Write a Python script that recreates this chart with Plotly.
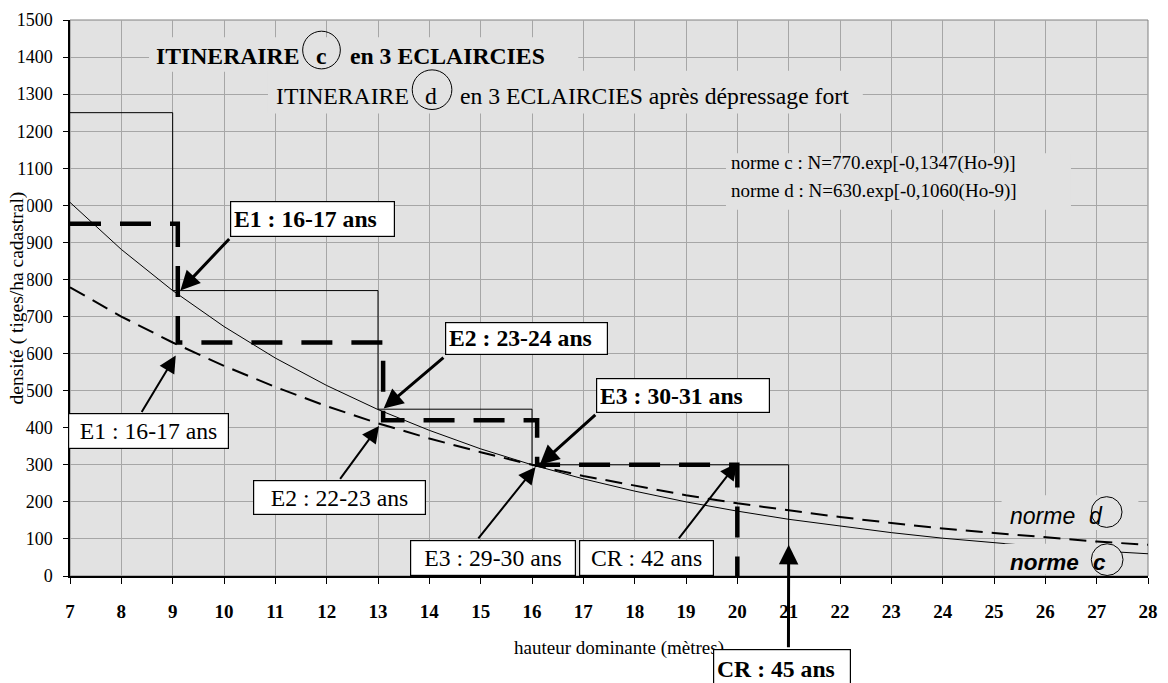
import plotly.graph_objects as go

# ---------------- data ----------------
heights = list(range(7, 29))  # hauteur dominante (m)
norme_c = [1008, 881, 770, 673, 588, 514, 449, 393, 343, 300, 262,
           229, 200, 175, 153, 134, 117, 102, 89, 78, 68, 60]
norme_d = [779, 700, 630, 567, 510, 458, 412, 371, 334, 300, 270,
           243, 218, 196, 177, 159, 143, 128, 116, 104, 93, 84]

itin_c_h = [7, 9, 13, 16, 21]
itin_c_n = [1250, 770, 450, 300, 0]
itin_d_h = [7, 9.1, 13.1, 16.1, 20]
itin_d_n = [950, 630, 420, 300, 0]

x_ticks = list(range(7, 29))
y_ticks = list(range(0, 1501, 100))

# ---------------- geometry helpers ----------------
W, H = 1168, 683
ML, MR, MT, MB = 70.3, 10.3, 15.7, 106.5
X_MIN, X_MAX, Y_MIN, Y_MAX = 7, 28, 0, 1500
PW = W - ML - MR
PH = H - MT - MB


def dx(px):
    return X_MIN + (px - ML) / PW * (X_MAX - X_MIN)


def dy(py):
    return Y_MIN + (H - MB - py) / PH * (Y_MAX - Y_MIN)


def fx(px):
    return (px - ML) / PW


def fy(py):
    return (H - MB - py) / PH


SERIF = "Liberation Serif"
SANS = "Liberation Sans"
PLOT_BG = "#e2e2e2"
GRID = "#a6a6a6"

fig = go.Figure()
fig.add_trace(go.Scatter(x=heights, y=norme_c, mode="lines",
                         line=dict(color="black", width=1), hoverinfo="skip"))
fig.add_trace(go.Scatter(x=heights, y=norme_d, mode="lines",
                         line=dict(color="black", width=2, dash="17px,9px"), hoverinfo="skip"))
fig.add_trace(go.Scatter(x=itin_c_h, y=itin_c_n, mode="lines", line_shape="hv",
                         line=dict(color="black", width=1), hoverinfo="skip"))
fig.add_trace(go.Scatter(x=itin_d_h, y=itin_d_n, mode="lines", line_shape="hv",
                         line=dict(color="black", width=4.5, dash="31px,19px"), hoverinfo="skip"))

shapes = []


def cover(x0, y0, x1, y1, layer="between"):
    shapes.append(dict(type="rect", xref="x", yref="y", x0=dx(x0), x1=dx(x1),
                       y0=dy(y1), y1=dy(y0), fillcolor=PLOT_BG,
                       line=dict(width=0), layer=layer))


def circle(x0, y0, x1, y1):
    shapes.append(dict(type="circle", xref="x", yref="y", x0=dx(x0), x1=dx(x1),
                       y0=dy(y1), y1=dy(y0), line=dict(color="black", width=1),
                       layer="above"))


# plot area border (top/right grey)
shapes.append(dict(type="rect", xref="paper", yref="paper", x0=0, x1=1, y0=0, y1=1,
                   line=dict(color="#808080", width=1), layer="between"))
cover(150, 33, 583, 68)
cover(270, 67, 870, 110)
cover(732, 150, 1080, 207)
cover(1010, 495, 1148, 530)
cover(1013, 544, 1130, 575, layer="above")
circle(305, 27, 343, 65)
circle(415.5, 66, 455.5, 106)
circle(1100.5, 496.5, 1131.5, 527.5)
circle(1100.5, 544, 1132.5, 576)

ann = []


def text(t, px, py, size, family=SERIF, weight="normal", style="normal", anchor="left"):
    ann.append(dict(text=t, x=dx(px), y=dy(py), xref="x", yref="y", xanchor=anchor,
                    yanchor="middle", showarrow=False, borderpad=0, borderwidth=0,
                    font=dict(family=family, size=size, color="black", weight=weight,
                              style=style)))


text("ITINERAIRE", 157, 52, 23.7, weight="bold")
text("c", 324, 52, 23.7, weight="bold", anchor="center")
text("en 3 ECLAIRCIES", 352.7, 52, 23.7, weight="bold")
text("ITINERAIRE", 277.7, 92, 23.7)
text("d", 434, 92, 23.7, anchor="center")
text("en 3 ECLAIRCIES après dépressage fort", 464, 92, 23.7)
text("norme c : N=770.exp[-0,1347(Ho-9)]", 737, 160, 19)
text("norme d : N=630.exp[-0,1060(Ho-9)]", 737, 188, 19)
text("norme", 1018, 516, 23, family=SANS, style="italic")
text("d", 1105, 516, 23, family=SANS, style="italic", anchor="center")
text("norme", 1018, 563, 22.5, family=SANS, style="italic", weight="bold")
text("c", 1109, 563, 22.5, family=SANS, style="italic", weight="bold", anchor="center")

# axis titles
ann.append(dict(text="densité ( tiges/ha cadastral)", textangle=-90, x=fx(17), y=fy(296),
                xref="paper", yref="paper", xanchor="center", yanchor="middle",
                width=222, height=20,
                showarrow=False, bgcolor="white", borderpad=0, borderwidth=0,
                font=dict(family=SERIF, size=19.5, color="black")))
ann.append(dict(text="hauteur dominante (mètres)", x=fx(624), y=fy(649),
                xref="paper", yref="paper", xanchor="center", yanchor="middle",
                showarrow=False, font=dict(family=SERIF, size=19, color="black")))

# arrows (tail in pixels, head on the chart data)
BW, BP = 1.2, 2.8


def arrow(tail_px, head, width, size):
    ann.append(dict(text="", x=head[0], y=head[1], xref="x", yref="y",
                    ax=dx(tail_px[0]), ay=dy(tail_px[1]), axref="x", ayref="y",
                    showarrow=True, arrowhead=2, arrowsize=size, arrowwidth=width,
                    arrowcolor="black", standoff=0, startstandoff=0))


arrow((232.3, 235), (9.15, 770), 3, 1.3)
arrow((448.5, 355), (13.11, 452), 3, 1.3)
arrow((601.7, 412.7), (16.15, 300), 3, 1.3)
arrow((795, 650), (21, 84), 3, 1.3)
arrow((141.7, 412.7), (9.06, 595), 2, 1.7)
arrow((341.7, 480), (13.02, 405), 2, 1.7)
arrow((481, 540), (16.07, 294), 2, 1.7)
arrow((683.3, 540), (20.0, 305), 2, 1.7)


def box(t, cx, cy, w, h, bold, paper_top=False):
    d = dict(text=t, x=dx(cx), xref="x", xanchor="center", showarrow=False,
             width=w - 2 * (BW + BP), height=h - 2 * (BW + BP),
             align="left" if bold else "center", valign="middle",
             bgcolor="white", bordercolor="black", borderwidth=BW, borderpad=BP,
             font=dict(family=SERIF, size=23.7, color="black",
                       weight="bold" if bold else "normal"))
    if paper_top:
        d.update(y=fy(cy), yref="paper", yanchor="top")
    else:
        d.update(y=dy(cy), yref="y", yanchor="middle")
    ann.append(d)


box("E1 : 16-17 ans", 314.5, 216.3, 165, 35.5, True)
box("E2 : 23-24 ans", 530.7, 337.2, 163, 32.5, True)
box("E3 : 30-31 ans", 688.7, 394.5, 174, 35, True)
box("CR : 45 ans", 788, 650, 138, 40, True, paper_top=True)
box("E1 : 16-17 ans", 149.3, 430.5, 161, 35.6, False)
box("E2 : 22-23 ans", 342.5, 497.5, 173, 35, False)
box("E3 : 29-30 ans", 497.2, 558, 166, 36, False)
box("CR : 42 ans", 651.5, 558, 135, 36, False)

fig.update_layout(
    width=W, height=H,
    margin=dict(l=ML, r=MR, t=MT, b=MB, pad=0),
    paper_bgcolor="white", plot_bgcolor=PLOT_BG,
    showlegend=False,
    shapes=shapes, annotations=ann,
    xaxis=dict(range=[X_MIN, X_MAX], tickmode="array", tickvals=x_ticks,
               ticktext=[str(v) for v in x_ticks],
               showgrid=True, gridcolor=GRID, gridwidth=1, zeroline=False,
               showline=True, linecolor="black", linewidth=1.5,
               ticks="outside", ticklen=6, tickcolor="black", ticklabelstandoff=11,
               tickfont=dict(family=SERIF, size=19, color="black", weight="bold")),
    yaxis=dict(range=[Y_MIN, Y_MAX], tickmode="array", tickvals=y_ticks,
               ticktext=[str(v) for v in y_ticks],
               showgrid=True, gridcolor=GRID, gridwidth=1, zeroline=False,
               showline=True, linecolor="black", linewidth=1.5,
               ticks="outside", ticklen=5, tickcolor="black", ticklabelstandoff=7,
               tickfont=dict(family=SERIF, size=18, color="black")),
)

fig.write_html("out.html")
